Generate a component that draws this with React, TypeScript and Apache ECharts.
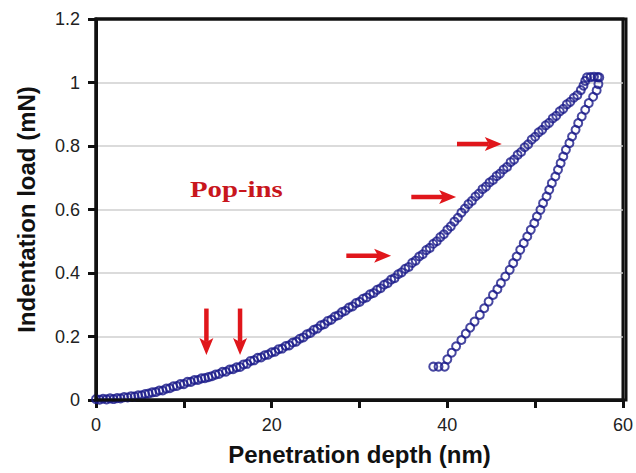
import React, { useEffect, useRef } from "react";
import * as echarts from "echarts";

// Penetration depth (nm) vs indentation load (mN) — loading branch
const loading: [number, number][] = [
  [0.0, 0.003], [0.4, 0.001], [0.8, 0.004], [1.2, 0.002], [1.6, 0.005], [2.0, 0.003],
  [2.4, 0.006], [2.8, 0.005], [3.2, 0.009], [3.6, 0.008], [4.0, 0.012], [4.4, 0.011],
  [4.8, 0.015], [5.2, 0.015], [5.6, 0.019], [6.0, 0.02], [6.4, 0.024], [6.8, 0.025],
  [7.2, 0.03], [7.6, 0.03], [8.0, 0.036], [8.4, 0.037], [8.8, 0.043], [9.2, 0.044],
  [9.6, 0.05], [10.0, 0.05], [10.4, 0.057], [10.8, 0.057], [11.2, 0.063], [11.6, 0.063],
  [12.0, 0.068], [12.4, 0.069], [12.8, 0.072], [13.2, 0.075], [13.6, 0.08], [14.0, 0.082],
  [14.4, 0.089], [14.8, 0.089], [15.2, 0.096], [15.6, 0.097], [16.0, 0.103], [16.4, 0.104],
  [16.8, 0.112], [17.2, 0.114], [17.6, 0.123], [18.0, 0.125], [18.4, 0.133], [18.8, 0.134],
  [19.2, 0.141], [19.6, 0.143], [20.0, 0.15], [20.4, 0.152], [20.8, 0.16], [21.2, 0.162],
  [21.6, 0.17], [22.0, 0.172], [22.4, 0.181], [22.8, 0.184], [23.2, 0.193], [23.6, 0.197],
  [24.0, 0.207], [24.4, 0.211], [24.8, 0.221], [25.2, 0.225], [25.6, 0.235], [26.0, 0.239],
  [26.4, 0.249], [26.8, 0.253], [27.2, 0.263], [27.6, 0.267], [28.0, 0.277], [28.4, 0.281],
  [28.8, 0.291], [29.2, 0.295], [29.6, 0.305], [30.0, 0.309], [30.4, 0.319], [30.8, 0.323],
  [31.2, 0.333], [31.6, 0.337], [32.0, 0.347], [32.4, 0.352], [32.8, 0.363], [33.2, 0.368],
  [33.6, 0.379], [34.0, 0.384], [34.4, 0.396], [34.8, 0.402], [35.2, 0.413], [35.6, 0.419],
  [36.0, 0.432], [36.4, 0.439], [36.8, 0.452], [37.2, 0.459], [37.6, 0.472], [38.0, 0.479],
  [38.4, 0.492], [38.8, 0.5], [39.2, 0.513], [39.6, 0.522], [40.0, 0.536], [40.4, 0.547],
  [40.8, 0.562], [41.2, 0.574], [41.6, 0.59], [42.0, 0.603], [42.4, 0.617], [42.8, 0.627],
  [43.2, 0.641], [43.6, 0.65], [44.0, 0.664], [44.4, 0.672], [44.8, 0.685], [45.2, 0.693],
  [45.6, 0.705], [46.0, 0.713], [46.4, 0.726], [46.8, 0.734], [47.2, 0.749], [47.6, 0.757],
  [48.0, 0.772], [48.4, 0.781], [48.8, 0.796], [49.2, 0.805], [49.6, 0.82], [50.0, 0.829],
  [50.4, 0.843], [50.8, 0.851], [51.2, 0.865], [51.6, 0.873], [52.0, 0.887], [52.4, 0.895],
  [52.8, 0.909], [53.2, 0.917], [53.6, 0.931], [54.0, 0.939], [54.4, 0.952], [54.8, 0.96],
  [55.2, 0.976], [55.5, 0.99], [55.7, 1.005], [55.9, 1.016], [56.3, 1.017], [56.7, 1.018],
  [57.1, 1.017],
];

// Unloading branch
const unloading: [number, number][] = [
  [57.3, 1.016], [57.2, 0.995], [57.0, 0.975], [56.6, 0.955], [56.1, 0.935], [55.7, 0.914],
  [55.3, 0.893], [54.9, 0.872], [54.6, 0.851], [54.2, 0.83], [53.9, 0.809], [53.5, 0.788],
  [53.2, 0.767], [52.9, 0.746], [52.6, 0.725], [52.3, 0.704], [51.9, 0.683], [51.6, 0.662],
  [51.3, 0.641], [50.9, 0.62], [50.6, 0.599], [50.2, 0.578], [49.9, 0.557], [49.5, 0.536],
  [49.1, 0.515], [48.7, 0.494], [48.3, 0.473], [47.9, 0.452], [47.5, 0.431], [47.1, 0.41],
  [46.6, 0.389], [46.1, 0.368], [45.7, 0.349], [45.2, 0.331], [44.7, 0.31], [44.2, 0.289],
  [43.7, 0.268], [43.1, 0.247], [42.6, 0.228], [42.1, 0.209], [41.6, 0.189], [41.0, 0.169],
  [40.5, 0.149], [40.0, 0.128], [39.7, 0.105], [39.0, 0.105], [38.4, 0.105],
];

// Pop-in arrows: [tailX, tailY, tipX, tipY] in data units
const popInArrows: [number, number, number, number][] = [
  [12.57, 0.288, 12.57, 0.142],
  [16.4, 0.288, 16.4, 0.142],
  [28.5, 0.454, 33.6, 0.454],
  [35.9, 0.639, 41.0, 0.639],
  [41.1, 0.806, 46.2, 0.806],
];

const xTicks = { min: 0, max: 60, interval: 10 };
const yTicks = { min: 0, max: 1.2, interval: 0.2 };

const MARKER = "#1a1a8a";
const RED = "#e0161b";

const GRID = { left: 96, right: 10, top: 19, bottom: 73 };
const W = 636;
const H = 473;

export default function App() {
  const ref = useRef<HTMLDivElement>(null);
  useEffect(() => {
    if (!ref.current) return;
    const chart = echarts.init(ref.current, undefined, { renderer: "svg" });
    const sans = "'Liberation Sans', Arial, sans-serif";

    const px = (v: [number, number]) => chart.convertToPixel({ gridIndex: 0 }, v) as number[];

    chart.setOption({
      animation: false,
      backgroundColor: "#fff",
      grid: { ...GRID, show: true, borderColor: "#111", borderWidth: 3, backgroundColor: "rgba(0,0,0,0)" },
      xAxis: {
        type: "value",
        ...xTicks,
        name: "Penetration depth (nm)",
        nameLocation: "middle",
        nameGap: 42,
        nameTextStyle: { fontFamily: sans, fontWeight: "bold", fontSize: 24, color: "#111" },
        axisLine: { show: true, onZero: false, lineStyle: { color: "#111", width: 3 } },
        axisTick: { show: true, length: 8, lineStyle: { color: "#111", width: 3 } },
        axisLabel: {
          fontFamily: sans, fontSize: 18, color: "#222", margin: 16,
          formatter: (v: number) => (v % 20 === 0 ? String(v) : ""),
        },
        splitLine: { show: false },
      },
      yAxis: {
        type: "value",
        ...yTicks,
        name: "Indentation load (mN)",
        nameLocation: "middle",
        nameGap: 58,
        nameTextStyle: { fontFamily: sans, fontWeight: "bold", fontSize: 24, color: "#111" },
        axisLine: { show: true, onZero: false, lineStyle: { color: "#111", width: 3 } },
        axisTick: { show: true, length: 8, lineStyle: { color: "#111", width: 3 } },
        axisLabel: { fontFamily: sans, fontSize: 18, color: "#222", margin: 16 },
        splitLine: { show: true, lineStyle: { color: "#cfcfcf", width: 1.5 } },
      },
      series: [
        {
          type: "scatter",
          name: "Loading",
          data: loading,
          symbol: "circle",
          symbolSize: 8,
          itemStyle: { color: "rgba(255,255,255,0)", borderColor: MARKER, borderWidth: 2 },
          silent: true,
        },
        {
          type: "scatter",
          name: "Unloading",
          data: unloading,
          symbol: "circle",
          symbolSize: 8,
          itemStyle: { color: "rgba(255,255,255,0)", borderColor: MARKER, borderWidth: 2 },
          silent: true,
        },
      ],
    });

    const headLen = 17;
    const headHalf = 7;
    const notch = 4;
    const arrowEls: any[] = [];
    popInArrows.forEach(([x1, y1, x2, y2]) => {
      const p1 = px([x1, y1]);
      const p2 = px([x2, y2]);
      const dx = p2[0] - p1[0];
      const dy = p2[1] - p1[1];
      const len = Math.hypot(dx, dy);
      const ux = dx / len;
      const uy = dy / len;
      const nx = -uy;
      const ny = ux;
      const bx = p2[0] - ux * headLen;
      const by = p2[1] - uy * headLen;
      arrowEls.push({
        type: "line",
        silent: true,
        shape: { x1: p1[0], y1: p1[1], x2: bx + ux * notch, y2: by + uy * notch },
        style: { stroke: RED, lineWidth: 4.5 },
        z: 10,
      });
      arrowEls.push({
        type: "polygon",
        silent: true,
        shape: {
          points: [
            [p2[0], p2[1]],
            [bx + nx * headHalf, by + ny * headHalf],
            [bx + ux * notch, by + uy * notch],
            [bx - nx * headHalf, by - ny * headHalf],
          ],
        },
        style: { fill: RED },
        z: 10,
      });
    });

    // plot frame drawn as a rectangle around the grid area
    const frame = {
      type: "rect",
      silent: true,
      z: 100,
      shape: {
        x: GRID.left,
        y: GRID.top,
        width: W - GRID.left - GRID.right,
        height: H - GRID.top - GRID.bottom,
      },
      style: { fill: "rgba(0,0,0,0)", stroke: "#111111", lineWidth: 3 },
    };

    chart.setOption({
      graphic: [
        frame,
        ...arrowEls,
        {
          type: "text",
          left: 190,
          top: 177,
          scaleX: 1.2,
          z: 10,
          style: {
            text: "Pop-ins",
            fontFamily: "'Liberation Serif', 'Times New Roman', serif",
            fontWeight: "bold",
            fontSize: 24,
            fill: "#c8161d",
          },
        },
      ],
    });
    return () => chart.dispose();
  }, []);
  return (
    <div
      ref={ref}
      style={{ position: "fixed", left: 0, top: 0, width: W, height: H }}
    />
  );
}
